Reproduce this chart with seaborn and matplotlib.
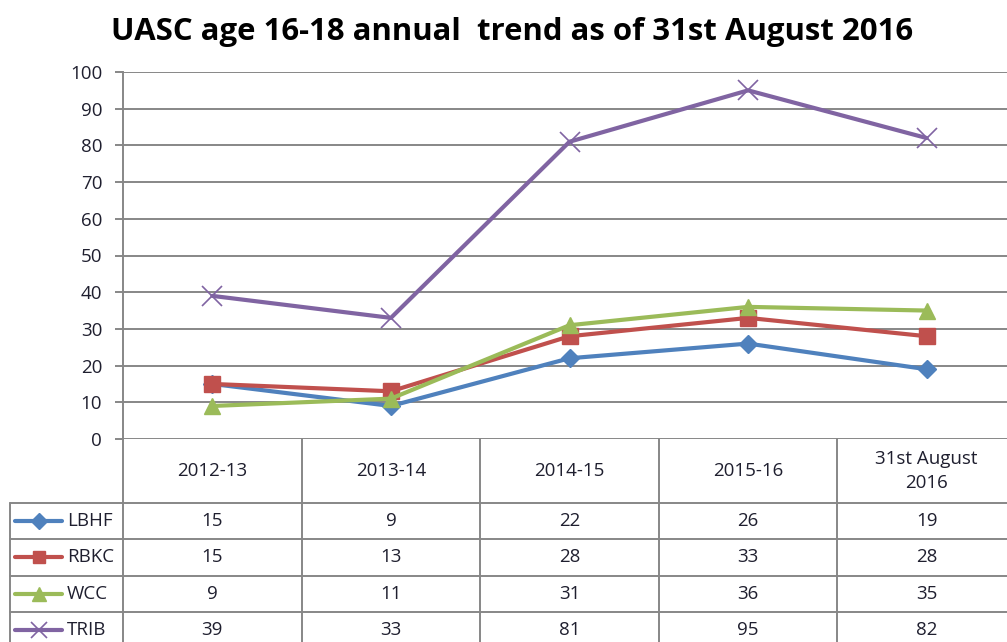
import numpy as np
import pandas as pd
import matplotlib
matplotlib.use("Agg")
import matplotlib.pyplot as plt
import seaborn as sns

# ---- data ----
categories = ["2012-13", "2013-14", "2014-15", "2015-16", "31st August\n2016"]
series_names = ["LBHF", "RBKC", "WCC", "TRIB"]
lbhf = [15, 9, 22, 26, 19]
rbkc = [15, 13, 28, 33, 28]
wcc = [9, 11, 31, 36, 35]
trib = [39, 33, 81, 95, 82]
y_ticks = [0, 10, 20, 30, 40, 50, 60, 70, 80, 90, 100]
title = "UASC age 16-18 annual  trend as of 31st August 2016"

series_values = [lbhf, rbkc, wcc, trib]
colors = ["#4F81BD", "#C0504D", "#9BBB59", "#8064A2"]
markers = ["D", "s", "^", "x"]
msizes = [9, 11, 12, 14]
mews = [1, 1, 1, 1.2]

sns.set_theme(style="white")
plt.rcParams["font.family"] = ["Open Sans", "DejaVu Sans"]

W, H = 1007, 642
fig = plt.figure(figsize=(W / 100, H / 100), dpi=100)

# plot area in pixel terms
px_left, px_right, px_top, px_bottom = 123, 1016, 72, 439
ax = fig.add_axes([px_left / W, 1 - px_bottom / H, (px_right - px_left) / W, (px_bottom - px_top) / H])

idx = np.arange(len(categories))
df = pd.DataFrame({"cat": np.tile(idx, len(series_names)),
                   "value": np.concatenate(series_values),
                   "series": np.repeat(series_names, len(categories))})

for name, col, mk, ms, mew in zip(series_names, colors, markers, msizes, mews):
    sub = df[df["series"] == name]
    sns.lineplot(data=sub, x="cat", y="value", ax=ax, color=col, linewidth=3.0,
                 marker=mk, markersize=ms, markeredgecolor=col, markeredgewidth=mew,
                 markerfacecolor=col, legend=False, zorder=3)

grid_col = "#878787"
txt_col = "#1f1f2f"
ax.set_xlim(-0.5, len(categories) - 0.5)
ax.set_ylim(0, 100)
ax.set_yticks(y_ticks)
ax.set_yticklabels([str(t) for t in y_ticks], fontsize=13.5, color=txt_col)
ax.set_xticks([])
ax.set_xlabel("")
ax.set_ylabel("")
ax.yaxis.grid(True, color=grid_col, linewidth=1.4, zorder=0)
ax.set_axisbelow(True)
for s in ["top", "right", "bottom"]:
    ax.spines[s].set_visible(False)
ax.spines["left"].set_color(grid_col)
ax.spines["left"].set_linewidth(1.4)
ax.tick_params(axis="y", which="major", left=True, length=6, width=1.4, color=grid_col, pad=9)

fig.text(512 / W, 1 - 32 / H, title, ha="center", va="center", fontsize=22.4, fontweight="bold",
         color="black")

# ---- data table under the plot ----
cell_px = (px_right - px_left) / len(categories)
label_px = px_left - 10
tab_bottom_px = 648
tax = fig.add_axes([10 / W, 1 - tab_bottom_px / H, (px_right - 10) / W, (tab_bottom_px - px_bottom) / H])
x0 = -0.5 - label_px / cell_px
tax.set_xlim(x0, len(categories) - 0.5)
tax.set_ylim(tab_bottom_px, px_bottom)
tax.axis("off")

header_h = 64
row_h = 36.3
row_tops = [px_bottom + header_h + i * row_h for i in range(len(series_names) + 1)]
lw = 1.4
for yt in row_tops:
    tax.plot([x0, len(categories) - 0.5], [yt, yt], color=grid_col, lw=lw, clip_on=False)
for j in range(len(categories)):
    tax.plot([j - 0.5, j - 0.5], [px_bottom, tab_bottom_px], color=grid_col, lw=lw, clip_on=False)
tax.plot([x0, x0], [row_tops[0], tab_bottom_px], color=grid_col, lw=lw, clip_on=False)

fs = 13.5
for j, c in enumerate(categories):
    tax.text(j, px_bottom + header_h / 2, c, ha="center", va="center", fontsize=fs,
             color=txt_col, linespacing=1.45)

key_len = 47 / cell_px
for i, (name, vals, col, mk, ms, mew) in enumerate(zip(series_names, series_values, colors, markers, msizes, mews)):
    yc = row_tops[i] + row_h / 2
    kx0 = x0 + 5 / cell_px
    tax.plot([kx0, kx0 + key_len], [yc, yc], color=col, lw=3.0, clip_on=False)
    tax.plot([kx0 + key_len / 2], [yc], marker=mk, markersize=ms * 0.85, color=col,
             markeredgecolor=col, markeredgewidth=mew, clip_on=False)
    tax.text(kx0 + key_len + 5 / cell_px, yc, name, ha="left", va="center", fontsize=fs,
             color=txt_col)
    for j, v in enumerate(vals):
        tax.text(j, yc, str(v), ha="center", va="center", fontsize=fs, color=txt_col)

fig.savefig("out.png", dpi=100)
